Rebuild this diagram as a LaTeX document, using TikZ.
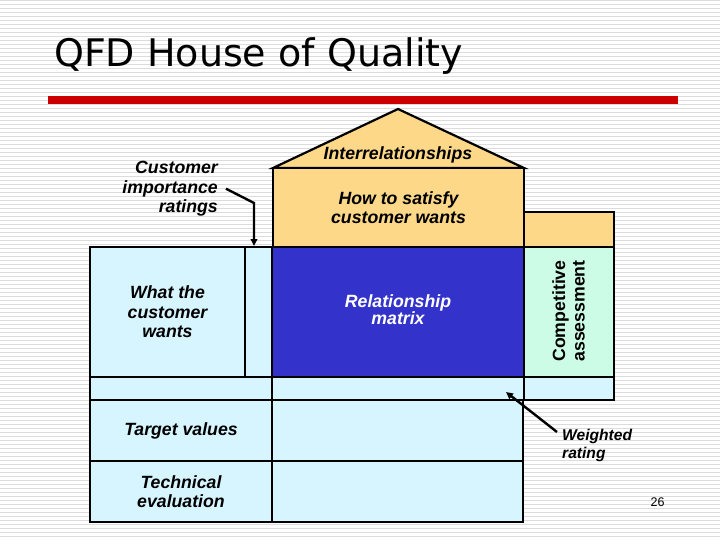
\documentclass[tikz,border=0pt]{standalone}
\usepackage{fontspec}
\setmainfont{Liberation Sans}
\newfontfamily\titlefont{DejaVu Sans}
\usetikzlibrary{arrows.meta}
\definecolor{cyanfill}{HTML}{D7F5FE}
\definecolor{orangefill}{HTML}{FCD888}
\definecolor{bluefill}{HTML}{3333CC}
\definecolor{mintfill}{HTML}{CCFCE6}
\definecolor{redbar}{HTML}{CC0000}
\definecolor{stripegray}{HTML}{DCDCDC}
\newcommand\lblfont{\fontsize{17.7}{19.5}\selectfont\bfseries\itshape}
\newcommand\smlblfont{\fontsize{15.6}{17.3}\selectfont\bfseries\itshape}
\newcommand\rotfont{\fontsize{17.7}{19.5}\selectfont\bfseries}
\begin{document}
\begin{tikzpicture}[x=1pt,y=-1pt,
  cell/.style={draw=black, line width=2.2pt, anchor=north west, inner sep=0pt,
    outer sep=0pt, font=\lblfont, align=center},
  lbl/.style={inner sep=0pt, font=\lblfont, align=center},
  ptr/.style={line width=2.4pt, -{Triangle[length=7pt,width=6.5pt]}},
]
\useasboundingbox (0,0) rectangle (720,540);
% striped background
\fill[white] (0,0) rectangle (720,540);
\foreach \k in {0,...,135} \draw[stripegray, line width=1.1pt] (0,4*\k+0.5) -- (720,4*\k+0.5);

% title and red bar
\node[anchor=base west, inner sep=0pt, font=\titlefont\fontsize{38}{40}\selectfont] (title) at (54,66.5) {QFD House of Quality};
\fill[redbar] (48,96.5) rectangle (678,104);

% roof
\coordinate (roofL) at (273,168);
\coordinate (roofT) at (398,109);
\coordinate (roofR) at (524,168);
\filldraw[fill=orangefill, draw=black, line width=2.2pt, line join=miter] (roofL) -- (roofT) -- (roofR) -- cycle;
\node[lbl, anchor=base] (inter) at (398,159.5) {Interrelationships};

% upper cells
\node[cell, fill=orangefill, minimum width=251pt, minimum height=79pt] (hows) at (273,168) {How to satisfy\\customer wants};
\node[cell, fill=orangefill, minimum width=90pt, minimum height=35pt] (side) at (524,212) {};

% middle band
\node[cell, fill=cyanfill, minimum width=155pt, minimum height=130pt] (whats) at (90,247) {What the\\customer\\wants};
\node[cell, fill=cyanfill, minimum width=27pt, minimum height=130pt] (imp) at (245,247) {};
\node[cell, fill=bluefill, text=white, minimum width=252pt, minimum height=130pt] (rel) at (272,247) {\raisebox{2pt}{\begin{tabular}{@{}c@{}}Relationship\\[-2.3pt]matrix\end{tabular}}};
\node[cell, fill=mintfill, minimum width=90pt, minimum height=130pt] (comp) at (524,247) {};
\node[lbl, font=\rotfont, rotate=90] (comptxt) at (568.5,311) {Competitive\\assessment};

% thin row
\node[cell, fill=cyanfill, minimum width=182pt, minimum height=23pt] (rowA) at (90,377) {};
\node[cell, fill=cyanfill, minimum width=252pt, minimum height=23pt] (rowB) at (272,377) {};
\node[cell, fill=cyanfill, minimum width=90pt, minimum height=23pt] (rowC) at (524,377) {};

% lower rows
\node[cell, fill=cyanfill, minimum width=182pt, minimum height=61pt] (target) at (90,400) {Target values};
\node[cell, fill=cyanfill, minimum width=251pt, minimum height=61pt] (targetv) at (272,400) {};
\node[cell, fill=cyanfill, minimum width=182pt, minimum height=61pt] (tech) at (90,461) {Technical\\evaluation};
\node[cell, fill=cyanfill, minimum width=251pt, minimum height=61pt] (techv) at (272,461) {};

% side labels
\node[lbl, align=right, anchor=east] (cir) at (218,188.7) {Customer\\importance\\ratings};
\node[lbl, font=\smlblfont, align=left, anchor=west] (wr) at (562,445.6) {Weighted\\rating};

% arrows
\coordinate (a1s) at (226,188.7);
\coordinate (a1b) at (254,203);
\coordinate (a1e) at (254,246);
\draw[ptr, line join=miter] (a1s) -- (a1b) -- (a1e);
\coordinate (a2s) at (557,432);
\coordinate (a2e) at (506,392);
\draw[ptr] (a2s) -- (a2e);

% page number
\node[anchor=base, inner sep=0pt, font=\fontsize{12.5}{14}\selectfont] (pg) at (657.5,506.7) {26};
\end{tikzpicture}
\end{document}
